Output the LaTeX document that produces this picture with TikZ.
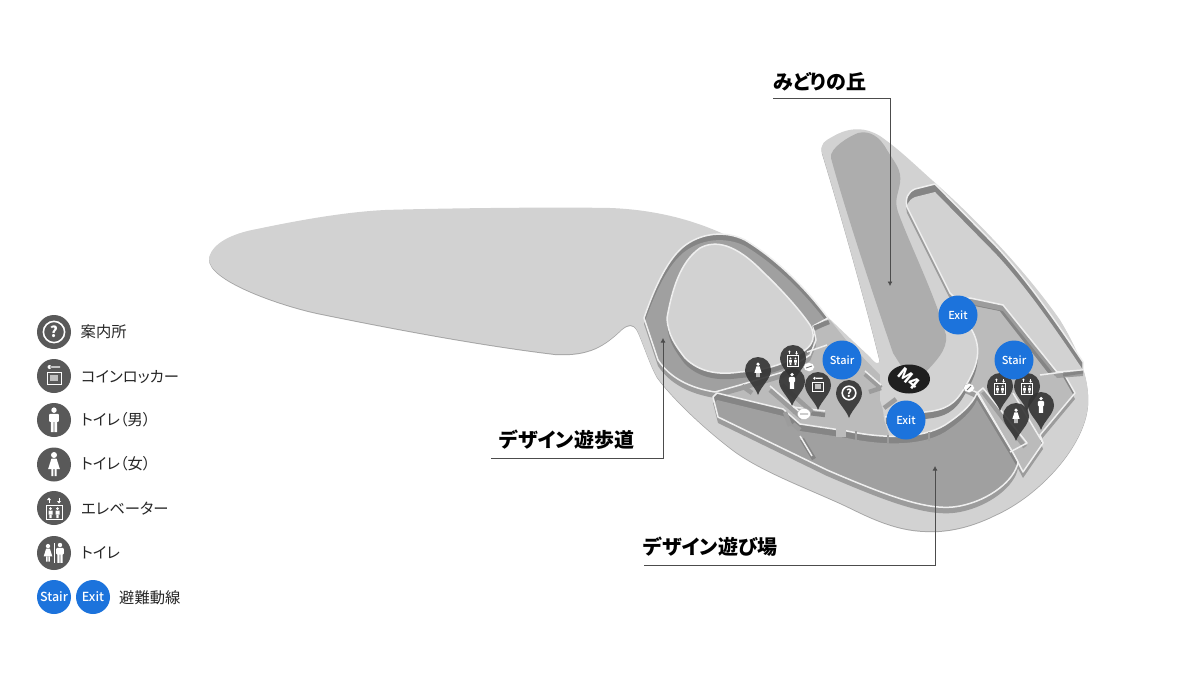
\documentclass[tikz,border=0pt]{standalone}
\usepackage{fontspec}
\usepackage{graphicx}
\setmainfont[RawFeature=+palt]{Noto Sans CJK JP}
\newfontfamily\markfont{Noto Sans CJK JP Medium}
\usetikzlibrary{calc,arrows.meta,shapes.geometric}
\definecolor{ground}{HTML}{D2D2D2}
\definecolor{hillg}{HTML}{ADADAD}
\definecolor{floorg}{HTML}{A0A0A0}
\definecolor{midg}{HTML}{BBBBBB}
\definecolor{wallg}{HTML}{858585}
\definecolor{softg}{HTML}{9C9C9C}
\definecolor{rimg}{HTML}{EFEFEF}
\definecolor{ping}{HTML}{333333}
\definecolor{iconbg}{HTML}{595959}
\definecolor{exitb}{HTML}{1C73DC}
\tikzset{
  px/.style={x=1pt,y=-1pt},
  exitmark/.style={circle, fill=exitb, text=white, inner sep=0pt, minimum size=39pt, font=\markfont\fontsize{11}{11}\selectfont},
  legicon/.style={circle, fill=iconbg, inner sep=0pt, minimum size=34pt},
  legexit/.style={circle, fill=exitb, text=white, inner sep=0pt, minimum size=34pt, font=\markfont\fontsize{12.5}{12.5}\selectfont},
  legtext/.style={anchor=west, inner sep=0pt, text=black!85, font=\fontsize{15.3}{16}\selectfont},
  arealabel/.style={anchor=west, inner sep=0pt, font=\bfseries\fontsize{20}{21}\selectfont},
  leader/.style={draw=black!70, line width=0.7pt, -{Latex[length=4.5pt,width=5pt]}},
  rimline/.style={draw=rimg, line width=1.5pt, line join=round},
  blockwall/.style={draw=wallg, line width=4.5pt},
  softwall/.style={draw=softg, line width=4.5pt},
  signmark/.style={ellipse, fill=white, draw=black!30, line width=0.3pt, inner sep=0pt, minimum width=11pt, minimum height=9pt},
}
% sunk area: band below, wall above, floor moved down by the depth
\newcommand{\pitarea}[3]{%
  \fill[softg, shift={(0,6)}] #1;
  \fill[wallg] #1;
  \begin{scope}
    \clip #1;
    \fill[#2, shift={(0,#3)}] #1;
  \end{scope}
  \draw[rimline] #1;
}
\newcommand{\mappin}[3]{%
  \coordinate (#3) at (#1,#2);
  \fill[ping, fill opacity=0.9] (#1,#2+25) .. controls (#1-3,#2+16) and (#1-13,#2+9) .. (#1-13,#2)
    arc[start angle=180, end angle=0, radius=13pt] .. controls (#1+13,#2+9) and (#1+3,#2+16) .. (#1,#2+25) -- cycle;
}
\newcommand{\manicon}[2]{%
  \begin{scope}[shift={(#1)}, scale=#2]
    \fill[white] (0,-7.6) circle (2.1);
    \fill[white, rounded corners=1pt] (-3.7,-4.8) rectangle (3.7,1.5);
    \fill[white] (-2.4,1) rectangle (-0.25,9.3) (0.25,1) rectangle (2.4,9.3);
  \end{scope}
}
\newcommand{\womanicon}[2]{%
  \begin{scope}[shift={(#1)}, scale=#2]
    \fill[white] (0,-7.3) circle (2.3);
    \fill[white] (-2,-4.5) -- (2,-4.5) -- (4.5,3.5) -- (-4.5,3.5) -- cycle;
    \fill[white] (-2,3.5) rectangle (-0.4,9) (0.4,3.5) rectangle (2,9);
  \end{scope}
}
\newcommand{\lifticon}[2]{%
  \begin{scope}[shift={(#1)}, scale=#2]
    \draw[white, line width=0.9pt] (-8,-3) rectangle (8,11.5);
    \fill[white] (-3.5,0.5) circle (1.5) (3.5,0.5) circle (1.5);
    \fill[white] (-5.5,2.5) rectangle (-1.5,6.5) (1.5,2.5) rectangle (5.5,6.5);
    \fill[white] (-4.6,6.5) rectangle (-2.4,10) (2.4,6.5) rectangle (4.6,10);
    \fill[white] (-7,-8) -- (-3,-8) -- (-5,-10.5) -- cycle;
    \fill[white] (7,-7) -- (3,-7) -- (5,-4.5) -- cycle;
    \draw[white, line width=0.8pt] (-5,-8) -- (-5,-5) (5,-7) -- (5,-10);
  \end{scope}
}
\newcommand{\lockericon}[2]{%
  \begin{scope}[shift={(#1)}, scale=#2]
    \draw[white, line width=1pt] (-7,-4) rectangle (7,8);
    \fill[white!75!black] (-4,-1) rectangle (4,5);
    \fill[white] (-4.5,-9) circle (2) (-4,-9.7) rectangle (6,-8.3);
  \end{scope}
}
\newcommand{\infoicon}[3]{%
  \begin{scope}[shift={(#1)}, scale=#2]
    \draw[white, line width=1.6pt] (0,0) circle (8.5);
    \node[text=white, inner sep=0pt, font=\bfseries\fontsize{#3}{#3}\selectfont] (#1q) at (0,0) {?};
  \end{scope}
}
\begin{document}
\begin{tikzpicture}[px]
\useasboundingbox (0,0) rectangle (1198,674);
\fill[white] (0,0) rectangle (1198,674);
\def\groundpath{(209,258) .. controls (213,240) and (240,232) .. (257,229)
  .. controls (300,220) and (345,212) .. (385,210)
  .. controls (450,208) and (560,207) .. (610,208)
  .. controls (665,210) and (710,225) .. (745,245)
  .. controls (775,265) and (830,320) .. (870,357)
  .. controls (875,364) and (881,366) .. (879,358)
  .. controls (865,300) and (835,195) .. (822,153)
  .. controls (820,143) and (825,141) .. (832,137)
  .. controls (845,129) and (862,125) .. (880,136)
  .. controls (900,150) and (915,165) .. (933,181)
  .. controls (975,218) and (1025,270) .. (1060,320)
  .. controls (1075,345) and (1090,375) .. (1088,405)
  .. controls (1085,445) and (1040,495) .. (995,515)
  .. controls (965,530) and (940,532) .. (925,531)
  .. controls (890,530) and (860,512) .. (840,503)
  .. controls (800,485) and (760,470) .. (733,450)
  .. controls (700,425) and (670,395) .. (657,377)
  .. controls (650,365) and (642,340) .. (637,330)
  .. controls (633,323) and (628,324) .. (622,329)
  .. controls (605,345) and (590,356) .. (555,354)
  .. controls (480,345) and (390,328) .. (317,313)
  .. controls (280,305) and (207,280) .. (209,258) -- cycle}
\def\rightpit{(958,298) -- (1003,305) -- (1055,371) -- (1063,372) -- (1075,393) -- (1040,435) -- (1043,443)
  -- (1023,472) -- (1013,453) -- (978,393) -- (965,387) -- (950,340) -- cycle}
\def\nepit{(907,207) .. controls (905,198) and (908,192) .. (915,189) -- (935,184) -- (990,240)
  .. controls (1020,270) and (1055,320) .. (1083,362) -- (1083,370) -- (1057,372) -- (1003,305)
  -- (970,298) -- (957,300) -- (950,293) -- cycle}
\def\looppit{(644,318) .. controls (652,295) and (665,262) .. (683,247)
  .. controls (700,233) and (725,230) .. (745,240)
  .. controls (775,258) and (805,287) .. (828,318) -- (813,326) -- (816,340) -- (810,355)
  -- (783,372) -- (740,385) -- (715,392)
  .. controls (690,388) and (670,378) .. (658,360) -- cycle}
\def\islandplate{(667,318) .. controls (672,290) and (680,262) .. (700,248)
  .. controls (715,240) and (735,243) .. (763,272)
  .. controls (780,288) and (800,310) .. (810,325)
  .. controls (816,335) and (813,345) .. (805,350)
  .. controls (790,362) and (770,370) .. (740,372)
  .. controls (720,375) and (700,373) .. (685,358)
  .. controls (675,345) and (668,335) .. (667,318) -- cycle}
\def\southpit{(713,397) -- (717,393) -- (783,409) -- (800,424) -- (847,431)
  .. controls (880,438) and (920,440) .. (945,425)
  .. controls (960,415) and (972,405) .. (977,393) -- (1013,453) -- (1018,462)
  .. controls (1015,480) and (990,500) .. (960,506)
  .. controls (930,512) and (890,497) .. (827,470) -- (718,417) -- cycle}
\def\platform{(880,362) -- (940,300) -- (958,298) -- (970,327)
  .. controls (985,350) and (975,370) .. (965,387)
  .. controls (955,405) and (945,410) .. (925,412) -- (885,417) -- (880,400) -- cycle}
% ground
\fill[black!35, shift={(0,1)}] \groundpath;
\fill[ground] \groundpath;
% sunk areas
\pitarea{\rightpit}{midg}{5}
\draw[wallg, line width=4.5pt] (966,302) -- (1001,309) -- (1051,373);
\pitarea{\nepit}{ground}{8}
\fill[midg] (715,394) -- (740,386) -- (783,373) -- (810,357) -- (816,340) -- (813,327) -- (830,320)
  -- (846,340) -- (880,375) -- (884,420) -- (890,437) -- (847,431) -- (800,424) -- (783,409) -- (717,393) -- cycle;
\pitarea{\looppit}{floorg}{6}
\fill[wallg, shift={(0,6)}] \islandplate;
\fill[ground] \islandplate;
\draw[rimline] \islandplate;
\pitarea{\southpit}{floorg}{7}
% ribs on the wall below the platform
\draw[softg, line width=1.5pt] (856,431) -- (856,440) (888,435) -- (888,444) (929,432) -- (929,441);
\fill[midg] (836,427) rectangle (846,437);
% platform under the hill
\begin{scope}
  \clip (886,290) rectangle (1000,430);
  \fill[wallg, shift={(0,7)}] \platform;
\end{scope}
\fill[ground] \platform;
\draw[rimline] (958,300) -- (970,327) .. controls (985,350) and (975,370) .. (965,387)
  .. controls (955,405) and (945,410) .. (925,412) -- (885,417);
% hill floor
\fill[hillg] (831,158) .. controls (829,148) and (850,136) .. (858,133)
  .. controls (870,130) and (880,137) .. (887,150)
  .. controls (895,163) and (902,170) .. (900,183)
  .. controls (898,195) and (894,200) .. (898,212)
  .. controls (910,245) and (935,295) .. (946,335)
  .. controls (948,350) and (935,362) .. (923,375)
  -- (905,372) -- (893,353) .. controls (875,300) and (845,210) .. (831,158) -- cycle;
% walls and blocks
\draw[blockwall] (814,328) -- (829,322);
\draw[rimline] (807,352) -- (827,345);
\draw[blockwall] (793,411) -- (825,415);
\draw[rimg, line width=1.5pt] (793,407) -- (825,411);
\draw[softwall] (785,412) -- (790,426) (793,424) -- (800,430);
\draw[blockwall] (802,439) -- (814,459);
\draw[rimline] (800,436) -- (812,456);
\draw[softwall] (742,386) -- (752,393) (770,390) -- (802,418) (782,385) -- (812,412);
\draw[rimline] (770,386) -- (802,414);
\draw[softwall] (865,374) -- (881,388) (869,392) -- (881,388) (884,408) -- (896,399);
\draw[rimline] (865,371) -- (881,385);
\draw[softwall] (983,392) -- (1025,447);
\draw[rimline] (1013,393) -- (1043,443);
\draw[rimline] (977,393) -- (983,388) -- (1027,443) -- (1010,452);
\draw[rimline] (1040,375) -- (1063,372);
\draw[wallg, line width=3pt] (1063,375) -- (1083,372);
% direction signs
\node[signmark] (signa) at (809,367) {};
\node[signmark, minimum width=13pt, minimum height=11pt] (signb) at (804,414) {};
\node[signmark] (signc) at (969,388) {};
\draw[black!55, line width=0.9pt] (800,414) -- (808,414) (812,366) -- (806,368) (971,386) -- (967,390);
% pins
\mappin{758}{370}{pinwoman}
\womanicon{pinwoman}{0.8}
\mappin{793}{358}{pinlift}
\lifticon{pinlift}{0.72}
\mappin{792}{381}{pinman}
\manicon{pinman}{0.85}
\mappin{818}{385}{pinlocker}
\lockericon{pinlocker}{0.75}
\mappin{849}{393}{pininfo}
\infoicon{pininfo}{0.8}{11}
\mappin{1000}{386}{pinlifta}
\lifticon{pinlifta}{0.72}
\mappin{1027}{386}{pinliftb}
\lifticon{pinliftb}{0.72}
\mappin{1041}{405}{pinmanb}
\manicon{pinmanb}{0.85}
\mappin{1016}{416}{pinwomanb}
\womanicon{pinwomanb}{0.8}
% stairs and exits
\node[ellipse, fill=black!88, inner sep=0pt, minimum width=42pt, minimum height=29pt] (markm) at (909,379) {};
\node[text=white, inner sep=0pt, rotate=-40, font=\bfseries\fontsize{16}{16}\selectfont] (markmtext) at (markm) {M4};
\node[exitmark] (stairw) at (842,360) {Stair};
\node[exitmark] (staire) at (1014,360) {Stair};
\node[exitmark] (exitn) at (958,315) {Exit};
\node[exitmark] (exits) at (906,420) {Exit};
% area labels
\node[arealabel] (hilllabel) at (773,82) {みどりの丘};
\node[arealabel] (walklabel) at (499,440) {デザイン遊歩道};
\node[arealabel] (playlabel) at (643,547) {デザイン遊び場};
\coordinate (hillstart) at (773,98);
\coordinate (hillend) at (890,286);
\coordinate (walkstart) at (491,458);
\coordinate (walkend) at (663,338);
\coordinate (playstart) at (644,565);
\coordinate (playend) at (935,466);
\draw[leader] (hillstart) -| (hillend);
\draw[leader] (walkstart) -| (walkend);
\draw[leader] (playstart) -| (playend);
% legend
\node[legicon] (leginfo) at (54,332) {};
\infoicon{leginfo}{1.25}{15}
\node[legtext] (txtinfo) at (80.5,332) {案内所};
\node[legicon] (leglocker) at (54,376) {};
\lockericon{leglocker}{1}
\node[legtext] (txtlocker) at (81,377) {コインロッカー};
\node[legicon] (legman) at (54,420) {};
\manicon{legman}{1.3}
\node[legtext] (txtman) at (81,420) {トイレ（男）};
\node[legicon] (legwoman) at (54,464.5) {};
\womanicon{legwoman}{1.3}
\node[legtext] (txtwoman) at (81,464) {トイレ（女）};
\node[legicon] (leglift) at (54,508) {};
\lifticon{leglift}{1}
\node[legtext] (txtlift) at (81,509) {エレベーター};
\node[legicon] (legtoilet) at (54,553) {};
\coordinate (legtoiletw) at ($(legtoilet)+(-6,0)$);
\coordinate (legtoiletm) at ($(legtoilet)+(6,0)$);
\womanicon{legtoiletw}{0.95}
\manicon{legtoiletm}{1.05}
\draw[white, line width=0.7pt] (54,543) -- (54,563);
\node[legtext] (txttoilet) at (81,553) {トイレ};
\node[legexit] (legstair) at (54,597) {Stair};
\node[legexit] (legexitb) at (93,597) {Exit};
\node[legtext] (txtexit) at (119,597.5) {避難動線};
\end{tikzpicture}
\end{document}
